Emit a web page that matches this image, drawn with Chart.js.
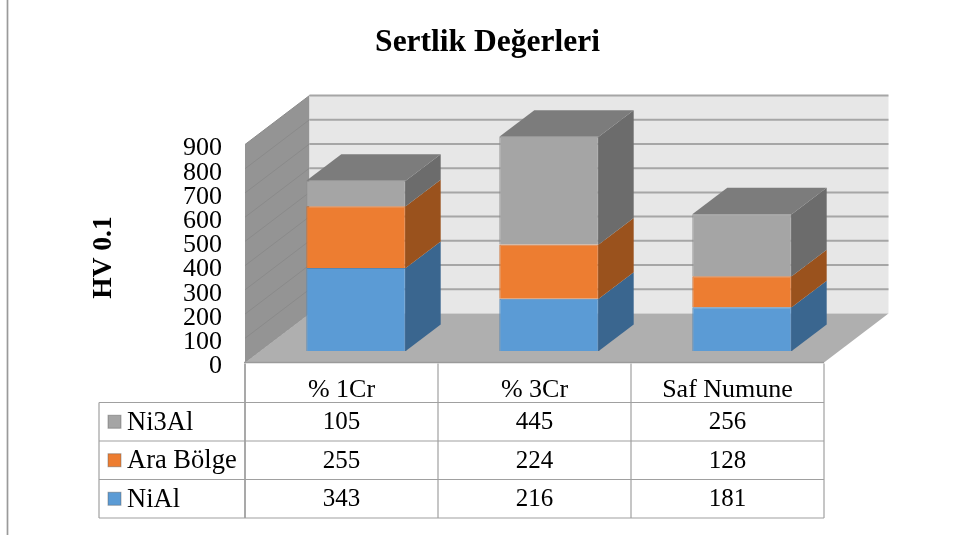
<!DOCTYPE html>
<html><head><meta charset="utf-8">
<style>html,body{margin:0;padding:0;background:#fff}canvas{display:block}</style>
<script src="https://cdn.jsdelivr.net/npm/chart.js@4"></script>
</head><body><canvas id="c" width="956" height="535"></canvas>
<script>
const categories = ['% 1Cr', '% 3Cr', 'Saf Numune'];
const niAl = [343, 216, 181];
const araBolge = [255, 224, 128];
const ni3Al = [105, 445, 256];
const yTicks = [0,100,200,300,400,500,600,700,800,900];
const tableRows = ['Ni3Al', 'Ara Bölge', 'NiAl'];
const titleText = 'Sertlik Değerleri';
const yTitle = 'HV 0.1';

const SERIF = "'Liberation Serif'";
const WALL = {dx: 64.5, dy: -49, oy: -4};
const BAR = {dx: 35, dy: -26.5, sx: 14.5, sy: -15.5};
const sideColors = ['#3a668f', '#9a521d', '#6c6c6c'];
const keyColors = ['#a5a5a5', '#ed7d31', '#5b9bd5'];
const rowValues = [ni3Al, araBolge, niAl];
const rowY = [402.5, 441, 479.5, 518];

function poly(ctx, pts, fill, stroke, lw){
  ctx.beginPath();
  pts.forEach((p,i)=> i ? ctx.lineTo(p[0],p[1]) : ctx.moveTo(p[0],p[1]));
  ctx.closePath();
  if(fill){ctx.fillStyle=fill;ctx.fill();}
  if(stroke){ctx.strokeStyle=stroke;ctx.lineWidth=lw||1;ctx.stroke();}
}
function line(ctx,x1,y1,x2,y2,c,w){
  ctx.beginPath();ctx.moveTo(x1,y1);ctx.lineTo(x2,y2);ctx.strokeStyle=c;ctx.lineWidth=w;ctx.stroke();
}

const box3d = {
  id:'box3d',
  afterLayout(chart){
    chart.titleBlock.left = 19; chart.titleBlock.right = 956;
  },
  beforeDatasetsDraw(chart){
    const {ctx, chartArea:a, scales:{y}} = chart;
    const d = WALL;
    ctx.save();
    const y0 = y.getPixelForValue(0)+d.oy, yM = y.getPixelForValue(900)+d.oy;
    line(ctx,7.5,0,7.5,535,'#9a9a9a',1.7);
    poly(ctx,[[a.left,yM],[a.left+d.dx,yM+d.dy],[a.left+d.dx,y0+d.dy],[a.left,y0]],'#949494');
    poly(ctx,[[a.left+d.dx,yM+d.dy],[a.right+d.dx,yM+d.dy],[a.right+d.dx,y0+d.dy],[a.left+d.dx,y0+d.dy]],'#e7e7e7');
    yTicks.forEach(v=>{
      const p = y.getPixelForValue(v)+d.oy;
      if(v>0) line(ctx,a.left+d.dx,p+d.dy,a.right+d.dx,p+d.dy,'#a6a6a6',2);
      line(ctx,a.left,p,a.left+d.dx,p+d.dy,'#8a8a8a',1);
    });
    poly(ctx,[[a.left,y0],[a.right,y0],[a.right+d.dx,y0+d.dy],[a.left+d.dx,y0+d.dy]],'#afafaf');
    line(ctx,a.left-1,y0,a.right,y0,'#9a9a9a',1.5);
    ctx.restore();
    ctx.save();
    ctx.translate(BAR.sx,BAR.sy);
  },
  afterDatasetsDraw(chart){
    const {ctx} = chart;
    const n = chart.data.datasets.length;
    chart.data.datasets.forEach((ds,i)=>{
      chart.getDatasetMeta(i).data.forEach(b=>{
        const {x,y,base,width} = b.getProps(['x','y','base','width'],true);
        const r = x+width/2, l = x-width/2;
        poly(ctx,[[r,y],[r+BAR.dx,y+BAR.dy],[r+BAR.dx,base+BAR.dy],[r,base]],sideColors[i]);
        line(ctx,r,y,r,base,sideColors[i],1);
        if(i===n-1){
          poly(ctx,[[l,y],[l+BAR.dx,y+BAR.dy],[r+BAR.dx,y+BAR.dy],[r,y]],'#7c7c7c');
        }
      });
    });
    ctx.restore();
  },
  afterDraw(chart){
    const {ctx, chartArea:a, scales:{x,y}} = chart;
    ctx.save();
    const step = (a.right-a.left)/categories.length;
    const colX = [a.left,a.left+step,a.left+2*step,a.right];
    const tableLeft = 99;
    const c = '#a0a0a0';
    const y0 = y.getPixelForValue(0)+WALL.oy;
    colX.forEach((cx,i)=>line(ctx,cx,y0+1,cx,rowY[3],c,i===0?1.8:1.2));
    line(ctx,tableLeft,rowY[0],tableLeft,rowY[3],c,1.2);
    rowY.forEach(ry=>line(ctx,tableLeft,ry,a.right,ry,c,1.2));
    ctx.textBaseline = 'middle';
    tableRows.forEach((name,i)=>{
      const my = (rowY[i]+rowY[i+1])/2;
      ctx.fillStyle = keyColors[i];
      ctx.fillRect(108,my-6.5,13,13);
      ctx.strokeStyle = 'rgba(90,90,90,0.45)';ctx.lineWidth=1;
      ctx.strokeRect(108,my-6.5,13,13);
      ctx.fillStyle = '#000';
      ctx.textAlign = 'left';
      ctx.font = '26.5px '+SERIF;
      ctx.fillText(name,127,my+1);
      ctx.textAlign = 'center';
      ctx.font = '25px '+SERIF;
      rowValues[i].forEach((v,j)=>ctx.fillText(String(v),x.getPixelForTick(j),my+1));
    });
    ctx.restore();
  }
};

new Chart(document.getElementById('c'),{
  type:'bar',
  data:{labels:categories,datasets:[
    {label:'NiAl',data:niAl,backgroundColor:'#5b9bd5',borderColor:'#5586b4',borderWidth:1},
    {label:'Ara Bölge',data:araBolge,backgroundColor:'#ed7d31',borderColor:'#c96c2e',borderWidth:1},
    {label:'Ni3Al',data:ni3Al,backgroundColor:'#a5a5a5',borderColor:'#8f8f8f',borderWidth:1}
  ]},
  plugins:[box3d],
  options:{
    responsive:false,animation:false,
    layout:{padding:{left:0,right:132,top:0,bottom:0}},
    barPercentage:0.515,categoryPercentage:1,
    plugins:{
      legend:{display:false},tooltip:{enabled:false},
      title:{display:true,text:titleText,color:'#000',
        font:{family:SERIF,size:31.5,weight:'bold'},
        padding:{top:24,bottom:86.7}}
    },
    scales:{
      x:{stacked:true,
        grid:{display:false,drawTicks:false},border:{display:false},
        ticks:{color:'#000',maxRotation:0,autoSkip:false,padding:8,
          font:{family:SERIF,size:26}},
        afterFit(s){s.height=168.5;}
      },
      y:{stacked:true,min:0,max:900,
        grid:{display:false,drawTicks:false},border:{display:false},
        afterBuildTicks(s){s.ticks=yTicks.map(v=>({value:v}));},
        ticks:{color:'#000',padding:23,autoSkip:false,font:{family:SERIF,size:26}},
        title:{display:true,text:yTitle,color:'#000',
          font:{family:SERIF,size:27.5,weight:'bold'},padding:{top:87,bottom:0}},
        afterFit(s){s.width=245;}
      }
    }
  }
});
</script></body></html>
